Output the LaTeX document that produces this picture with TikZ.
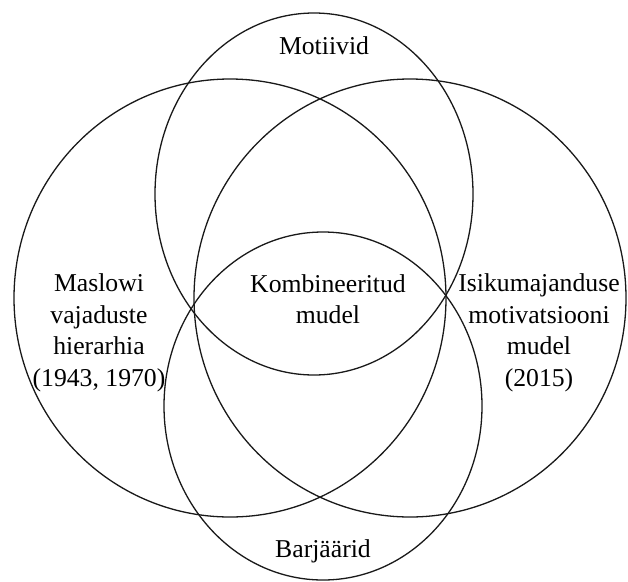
\documentclass[tikz,border=0pt]{standalone}
\usepackage{fontspec}
\setmainfont{Liberation Serif}
\begin{document}
\begin{tikzpicture}[x=1pt, y=-1pt]
    \tikzstyle{ring}=[draw=black!90, line width=1.3pt]
    \tikzstyle{word}=[align=center, inner sep=0pt, font=\fontsize{25.7}{31.5}\selectfont]
    
    \useasboundingbox (0, 0) rectangle (628, 581);
    
    % the four sets
    \draw [ring] (314, 194) ellipse (159pt and 181pt);
    \draw [ring] (230, 298) ellipse (216pt and 219pt);
    \draw [ring] (410, 298) ellipse (216pt and 219pt);
    \draw [ring] (323, 406) ellipse (159pt and 174pt);
    
    \node (motiivid) at (324, 46) [word] {Motiivid};
    \node (maslow) at (99, 333) [word] {Maslowi\\vajaduste\\hierarhia\\(1943, 1970)};
    \node (komb) at (328, 299) [word] {Kombineeritud\\mudel};
    \node (isik) at (539, 333) [word] {Isikumajanduse\\motivatsiooni\\mudel\\(2015)};
    \node (barj) at (323, 551) [word] {Barjäärid};
    
\end{tikzpicture}
\end{document}
